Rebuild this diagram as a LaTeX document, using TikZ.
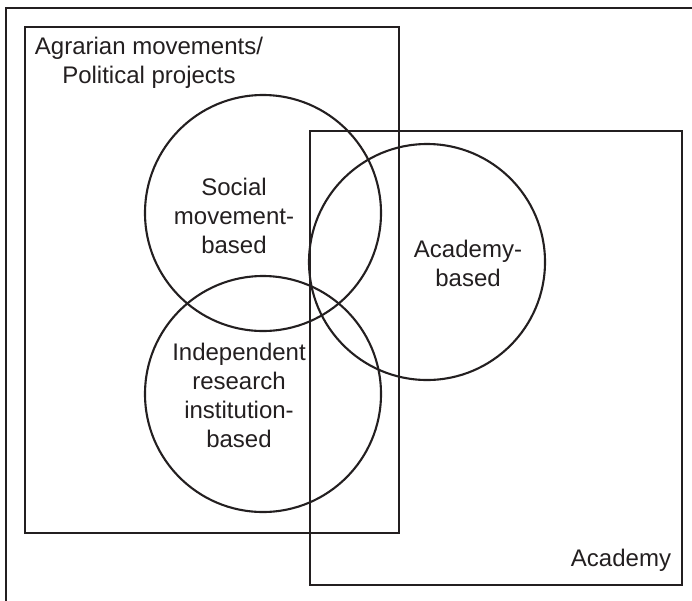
\documentclass[tikz,border=0pt]{standalone}
\usepackage{fontspec}
\setmainfont{Liberation Sans}
\definecolor{ink}{HTML}{231F20}
\begin{document}
\begin{tikzpicture}[x=1pt,y=-1pt,
  line/.style={draw=ink,line width=2.1pt},
  ring/.style={line,circle,minimum size=236pt,inner sep=0pt},
  lbl/.style={text=ink,font=\fontsize{24}{29}\selectfont,align=center,inner sep=0pt}]
\useasboundingbox (0,0) rectangle (692,600);
\clip (0,0) rectangle (692,600);
\draw[line] (6,8) rectangle (710,620);
\node[line,rectangle,minimum width=374pt,minimum height=506pt,inner sep=0pt,anchor=north west] (agr) at (24,26) {};
\node[line,rectangle,minimum width=372pt,minimum height=454pt,inner sep=0pt,anchor=north west] (acad) at (309,130) {};
\node[ring] (soc) at (263,213) {};
\node[ring] (ind) at (263,394) {};
\node[ring] (acb) at (427,262) {};
\node[lbl] (agrl) at (149,63) {Agrarian movements/\\Political projects};
\node[lbl] (socl) at (234,216) {Social\\movement-\\based};
\node[lbl] (indl) at (239,395) {Independent\\research\\institution-\\based};
\node[lbl] (acbl) at (468,263) {Academy-\\based};
\node[lbl] (acadl) at (621,560) {Academy};
\end{tikzpicture}
\end{document}
